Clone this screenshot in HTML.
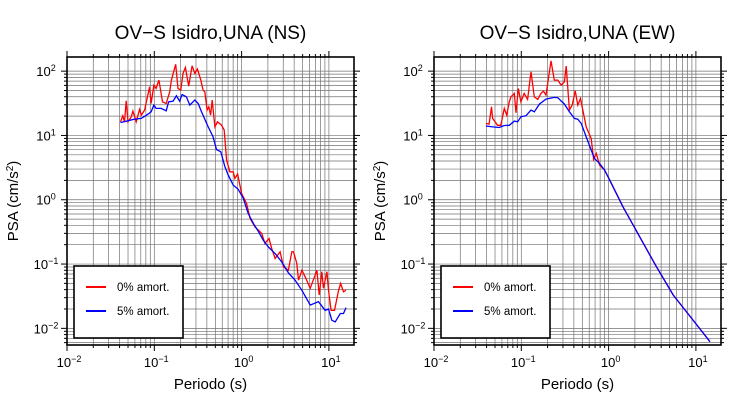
<!DOCTYPE html>
<html><head><meta charset="utf-8"><style>
body{margin:0;background:#fff;width:730px;height:400px;overflow:hidden;font-family:"Liberation Sans",sans-serif}
svg{display:block}
</style></head><body>
<svg id="chart" width="730" height="400"></svg>
<script>
const nsPeriods0=[0.041,0.0436,0.0456,0.0477,0.050,0.0545,0.0569,0.0621,0.0678,0.071,0.0775,0.0883,0.092,0.099,0.105,0.113,0.124,0.137,0.150,0.157,0.176,0.187,0.201,0.213,0.227,0.248,0.271,0.291,0.312,0.341,0.362,0.379,0.403,0.421,0.441,0.460,0.494,0.530,0.589,0.632,0.673,0.735,0.802,0.838,0.900,1.0,1.14,1.25,1.42,1.70,1.85,2.06,2.21,2.42,2.76,3.01,3.44,3.76,3.93,4.29,4.48,4.90,5.35,6.10,7.28,7.75,8.30,8.68,9.48,9.9,10.6,11.6,12.9,13.6,14.7,15.7];
const nsValues0=[16.3,20.2,16.3,34.6,16.3,19.5,23.9,16.3,25.4,20.7,24.8,57.1,31.4,60.7,53.8,72.5,33.4,31.4,47.8,72.5,128,53.8,50.7,92,114,58.5,121,92,108,72.5,50.7,47.8,24.8,27.9,20.7,35.4,13.6,16.3,14.5,12.1,4.13,2.72,2.72,2.14,2.51,1.25,0.875,0.51,0.38,0.30,0.21,0.25,0.175,0.122,0.155,0.091,0.080,0.155,0.155,0.102,0.056,0.080,0.063,0.042,0.080,0.033,0.076,0.042,0.076,0.039,0.019,0.019,0.039,0.050,0.037,0.039];
const nsPeriods5=[0.041,0.050,0.059,0.071,0.085,0.092,0.099,0.105,0.120,0.137,0.146,0.164,0.179,0.195,0.208,0.233,0.255,0.291,0.318,0.347,0.414,0.472,0.516,0.578,0.643,0.703,0.802,0.916,1.045,1.19,1.36,1.56,1.77,2.02,2.42,2.88,3.44,4.10,4.90,6.10,7.60,9.07,9.9,10.8,11.8,13.5,14.7,15.7];
const nsValues5=[15.9,16.9,17.9,18.4,21.5,23.3,29.6,26.3,26.3,24.2,33.4,34.2,41.4,34.2,43.4,39.9,29.6,35.4,31.4,23.3,13.6,9.5,6.05,5.57,3.26,2.42,1.69,1.45,1.05,0.61,0.43,0.318,0.236,0.185,0.146,0.108,0.073,0.056,0.039,0.023,0.026,0.019,0.020,0.0134,0.0126,0.017,0.017,0.021];
const ewPeriods0=[0.0393,0.0428,0.0456,0.0469,0.0535,0.0583,0.0638,0.068,0.0728,0.076,0.0832,0.087,0.0925,0.099,0.108,0.118,0.129,0.141,0.154,0.168,0.179,0.192,0.219,0.239,0.262,0.286,0.312,0.327,0.356,0.383,0.414,0.444,0.477,0.554,0.632,0.673,0.722,0.788,0.90,1.03,1.46,2.27,3.53,5.49,8.53,14.5];
const ewValues0=[15.4,15.0,27.9,18.4,14.4,14.4,26.3,20.7,33.4,39.9,45.0,22.5,53.8,33.4,45.0,36.3,97.7,39.9,36.3,45.0,48.9,42.4,145,72.5,72.5,60.7,68.4,120,24.8,29.6,49.5,29.6,37.6,13.6,8.98,4.24,5.25,3.46,2.89,2.02,0.78,0.265,0.091,0.033,0.0155,0.0062];
const ewPeriods5=[0.0393,0.0469,0.0559,0.0638,0.0728,0.0832,0.0908,0.099,0.113,0.129,0.141,0.161,0.192,0.239,0.262,0.312,0.356,0.406,0.444,0.485,0.554,0.632,0.690,0.788,0.90,1.03,1.46,2.27,3.53,5.49,8.53,14.5];
const ewValues5=[14.0,13.6,13.3,14.3,14.4,16.7,16.3,19.5,20.2,24.8,23.3,30.7,36.7,39.0,38.6,30.7,23.3,18.4,17.9,15.4,9.5,5.9,4.4,3.66,2.89,2.02,0.78,0.265,0.091,0.033,0.0155,0.0062];
const xTickExps=[-2,-1,0,1];
const yTickExps=[2,1,0,-1,-2];
const legendLabels=["0% amort.","5% amort."];

const NS="http://www.w3.org/2000/svg";
const svg=document.getElementById('chart');
function mk(tag,attrs,parent){const e=document.createElementNS(NS,tag);for(const k in attrs)e.setAttribute(k,attrs[k]);(parent||svg).appendChild(e);return e;}
const W=287,H=288,TOP=57,DEC=87.3,XMIN=-2,YMAX=2.22,YDEC=64.3;

function panel(x0,title,key,p0,v0,p5,v5){
  const g=mk('g',{});
  
  
  const xs=t=>x0+(Math.log10(t)-XMIN)*DEC;
  const ys=v=>TOP+(YMAX-Math.log10(v))*YDEC;
  const xmax=Math.pow(10,XMIN+W/DEC), ymin=Math.pow(10,YMAX-H/YDEC);
  const grid=mk('g',{stroke:'#444','stroke-width':0.7,opacity:0.75},g);
  
  
  for(let e=-2;e<=1;e++)for(let m=1;m<=9;m++){const t=m*Math.pow(10,e);if(t<0.01||t>xmax)continue;const x=xs(t);
    mk('line',{x1:x,x2:x,y1:TOP,y2:TOP+H},grid);
    const L=m==1?6:3;mk('line',{x1:x,x2:x,y1:TOP+H,y2:TOP+H+L,stroke:'#000','stroke-width':1},g);
    mk('line',{x1:x,x2:x,y1:TOP,y2:TOP-L,stroke:'#000','stroke-width':1},g);}
  for(let e=-3;e<=2;e++)for(let m=1;m<=9;m++){const v=m*Math.pow(10,e);if(v<ymin||v>Math.pow(10,YMAX))continue;const y=ys(v);
    mk('line',{x1:x0,x2:x0+W,y1:y,y2:y},grid);
    const L=m==1?6:3;mk('line',{x1:x0,x2:x0-L,y1:y,y2:y,stroke:'#000','stroke-width':1},g);
    mk('line',{x1:x0+W,x2:x0+W+L,y1:y,y2:y,stroke:'#000','stroke-width':1},g);}
  const line=(p,v,c,name)=>{const pl=mk('polyline',{points:p.map((t,i)=>xs(t).toFixed(1)+','+ys(v[i]).toFixed(1)).join(' '),fill:'none',stroke:c,'stroke-width':1.3},g);
    
    };
  line(p0,v0,'#ff0000',key+'-series-0pct');
  line(p5,v5,'#0000ff',key+'-series-5pct');
  const fr=mk('rect',{x:x0,y:TOP,width:W,height:H,fill:'none',stroke:'#000','stroke-width':1.6},g);
  
  
  xTickExps.forEach(e=>{const t=mk('text',{x:xs(Math.pow(10,e))+2,y:367,'text-anchor':'middle','font-size':13},g);
    
    
    t.innerHTML='10<tspan dy="-5" font-size="9">'+(e<0?'−'+(-e):e)+'</tspan>';});
  yTickExps.forEach(e=>{const t=mk('text',{x:x0-21,y:ys(Math.pow(10,e))+5,'text-anchor':'middle','font-size':13},g);
    
    
    t.innerHTML='10<tspan dy="-5" font-size="9">'+(e<0?'−'+(-e):e)+'</tspan>';});
  const tt=mk('text',{x:x0+W/2,y:39,'text-anchor':'middle','font-size':19},g);tt.textContent=title;
  
  
  const xl=mk('text',{x:x0+W/2,y:389,'text-anchor':'middle','font-size':15},g);xl.textContent='Periodo (s)';
  
  
  const yl=mk('text',{transform:`translate(${x0-49},${TOP+H/2}) rotate(-90)`,'text-anchor':'middle','font-size':15},g);
  yl.innerHTML='PSA (cm/s<tspan dy="-5" font-size="10">2</tspan><tspan dy="5">)</tspan>';
  
  
  const lg=mk('g',{},g);
  
  
  mk('rect',{x:x0+7,y:266,width:109,height:72,fill:'#fff',stroke:'#000','stroke-width':1.6},lg);
  ['#ff0000','#0000ff'].forEach((c,i)=>{const y=287+i*24;
    mk('line',{x1:x0+19,x2:x0+39,y1:y,y2:y,stroke:c,'stroke-width':2},lg);
    const t=mk('text',{x:x0+50,y:y+4,'font-size':11.5},lg);t.textContent=legendLabels[i];
    
    });
}
panel(67,'OV−S Isidro,UNA (NS)','ns',nsPeriods0,nsValues0,nsPeriods5,nsValues5);
panel(434,'OV−S Isidro,UNA (EW)','ew',ewPeriods0,ewValues0,ewPeriods5,ewValues5);
</script>
</body></html>
